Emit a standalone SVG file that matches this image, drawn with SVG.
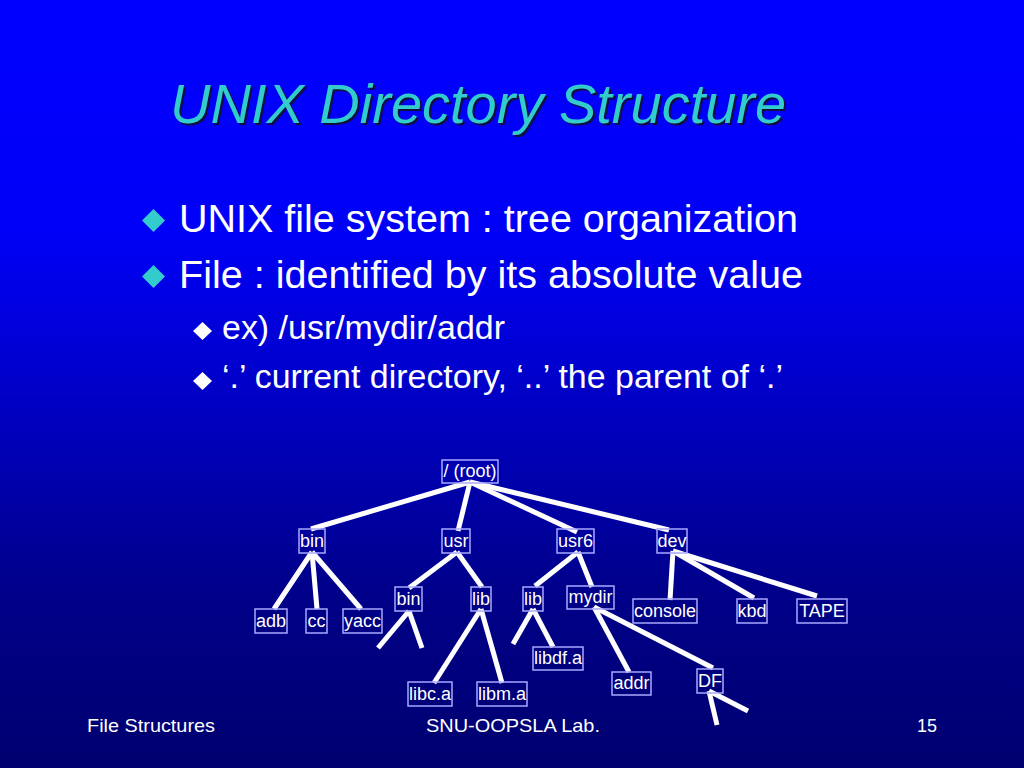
<svg xmlns="http://www.w3.org/2000/svg" width="1024" height="768" viewBox="0 0 1024 768">
<defs>
<linearGradient id="bg" x1="0" y1="0" x2="0" y2="1">
<stop offset="0" stop-color="#0000FF"/>
<stop offset="0.3" stop-color="#0000F8"/>
<stop offset="0.78" stop-color="#000088"/>
<stop offset="1" stop-color="#000070"/>
</linearGradient>
<style>
.title{font-family:"Liberation Sans",Arial,sans-serif;font-style:italic;font-size:56px;}
.b1{font-family:"Liberation Sans",Arial,sans-serif;font-size:38px;fill:#FFFFFF;}
.b2{font-family:"Liberation Sans",Arial,sans-serif;font-size:33px;fill:#FFFFFF;}
.foot{font-family:"Liberation Sans",Arial,sans-serif;font-size:19px;fill:#FFFFFF;}
.nb{fill:none;stroke:#A8A8FF;stroke-width:1.5;}
.nt{font-family:"Liberation Sans",Arial,sans-serif;font-size:18px;fill:#FFFFFF;text-anchor:middle;}
.edge{stroke:#FFFFFF;stroke-width:5;fill:none;}
</style>
</defs>
<rect x="0" y="0" width="1024" height="768" fill="url(#bg)"/>

<g id="title">
<text class="title" x="172" y="125" fill="#101040">UNIX Directory Structure</text>
<text class="title" x="170" y="123" fill="#33CCCC">UNIX Directory Structure</text>
</g>

<g id="bullets">
<polygon points="153.5,209 165,220.5 153.5,232 142,220.5" fill="#33CCCC"/>
<text class="b1" x="179" y="232" textLength="619" lengthAdjust="spacingAndGlyphs">UNIX file system : tree organization</text>
<polygon points="153.5,265 165,276.5 153.5,288 142,276.5" fill="#33CCCC"/>
<text class="b1" x="179" y="288" textLength="624" lengthAdjust="spacingAndGlyphs">File : identified by its absolute value</text>
<polygon points="202.5,322 212,331 202.5,340 193,331" fill="#FFFFFF"/>
<text class="b2" x="222" y="339" textLength="283" lengthAdjust="spacingAndGlyphs">ex) /usr/mydir/addr</text>
<polygon points="202.5,372 212,381 202.5,390 193,381" fill="#FFFFFF"/>
<text class="b2" x="222" y="388" textLength="561" lengthAdjust="spacingAndGlyphs">‘.’ current directory, ‘..’ the parent of ‘.’</text>
</g>

<g id="connectors">
<line class="edge" x1="470" y1="482" x2="311" y2="529"/>
<line class="edge" x1="470" y1="482" x2="458" y2="531"/>
<line class="edge" x1="470" y1="482" x2="577" y2="532"/>
<line class="edge" x1="470" y1="482" x2="669" y2="530"/>
<line class="edge" x1="312" y1="552" x2="274" y2="609"/>
<line class="edge" x1="312" y1="552" x2="317" y2="609"/>
<line class="edge" x1="312" y1="552" x2="361" y2="609"/>
<line class="edge" x1="457" y1="552" x2="409" y2="588"/>
<line class="edge" x1="457" y1="552" x2="482" y2="587"/>
<line class="edge" x1="409" y1="611" x2="378" y2="648"/>
<line class="edge" x1="409" y1="611" x2="422" y2="648"/>
<line class="edge" x1="481" y1="609" x2="434" y2="683"/>
<line class="edge" x1="481" y1="609" x2="502" y2="683"/>
<line class="edge" x1="578" y1="552" x2="535" y2="586"/>
<line class="edge" x1="578" y1="552" x2="592" y2="587"/>
<line class="edge" x1="533" y1="609" x2="513" y2="644"/>
<line class="edge" x1="533" y1="609" x2="553" y2="647"/>
<line class="edge" x1="673" y1="551" x2="670" y2="600"/>
<line class="edge" x1="673" y1="551" x2="754" y2="598"/>
<line class="edge" x1="673" y1="551" x2="817" y2="596"/>
<line class="edge" x1="594" y1="607" x2="629" y2="672"/>
<line class="edge" x1="594" y1="607" x2="713" y2="668"/>
<line class="edge" x1="709" y1="691" x2="717" y2="725"/>
<line class="edge" x1="709" y1="691" x2="748" y2="711"/>
</g>

<g id="n-root"><rect class="nb" x="442" y="460" width="56" height="23"/><text class="nt" x="470" y="477">/ (root)</text></g>
<g id="n-bin"><rect class="nb" x="299" y="529" width="26" height="24"/><text class="nt" x="312" y="547">bin</text></g>
<g id="n-usr"><rect class="nb" x="442" y="529" width="28" height="24"/><text class="nt" x="456" y="547">usr</text></g>
<g id="n-usr6"><rect class="nb" x="557" y="529" width="37" height="24"/><text class="nt" x="575.5" y="547">usr6</text></g>
<g id="n-dev"><rect class="nb" x="657" y="529" width="30" height="24"/><text class="nt" x="672" y="547">dev</text></g>
<g id="n-adb"><rect class="nb" x="255" y="609" width="32" height="24"/><text class="nt" x="271" y="627">adb</text></g>
<g id="n-cc"><rect class="nb" x="306" y="609" width="21" height="24"/><text class="nt" x="316.5" y="627">cc</text></g>
<g id="n-yacc"><rect class="nb" x="343" y="609" width="39" height="24"/><text class="nt" x="362.5" y="627">yacc</text></g>
<g id="n-bin2"><rect class="nb" x="395" y="587" width="27" height="24"/><text class="nt" x="408.5" y="605">bin</text></g>
<g id="n-lib1"><rect class="nb" x="471" y="587" width="20" height="24"/><text class="nt" x="481" y="605">lib</text></g>
<g id="n-lib2"><rect class="nb" x="523" y="587" width="20" height="24"/><text class="nt" x="533" y="605">lib</text></g>
<g id="n-mydir"><rect class="nb" x="567" y="586" width="47" height="23"/><text class="nt" x="590.5" y="603">mydir</text></g>
<g id="n-console"><rect class="nb" x="633" y="599" width="64" height="24"/><text class="nt" x="665" y="617">console</text></g>
<g id="n-kbd"><rect class="nb" x="737" y="599" width="30" height="24"/><text class="nt" x="752" y="617">kbd</text></g>
<g id="n-tape"><rect class="nb" x="797" y="599" width="50" height="24"/><text class="nt" x="822" y="617">TAPE</text></g>
<g id="n-libdf"><rect class="nb" x="533" y="647" width="50" height="23"/><text class="nt" x="558" y="664">libdf.a</text></g>
<g id="n-libc"><rect class="nb" x="408" y="682" width="44" height="24"/><text class="nt" x="430" y="700">libc.a</text></g>
<g id="n-libm"><rect class="nb" x="477" y="682" width="50" height="24"/><text class="nt" x="502" y="700">libm.a</text></g>
<g id="n-addr"><rect class="nb" x="612" y="672" width="39" height="23"/><text class="nt" x="631.5" y="689">addr</text></g>
<g id="n-df"><rect class="nb" x="697" y="669" width="26" height="24"/><text class="nt" x="710" y="687">DF</text></g>

<g id="footer">
<text class="foot" x="87" y="732" textLength="128" lengthAdjust="spacingAndGlyphs">File Structures</text>
<text class="foot" x="426" y="732" textLength="174" lengthAdjust="spacingAndGlyphs">SNU-OOPSLA Lab.</text>
<text class="foot" x="917" y="732" textLength="20" lengthAdjust="spacingAndGlyphs">15</text>
</g>
</svg>
